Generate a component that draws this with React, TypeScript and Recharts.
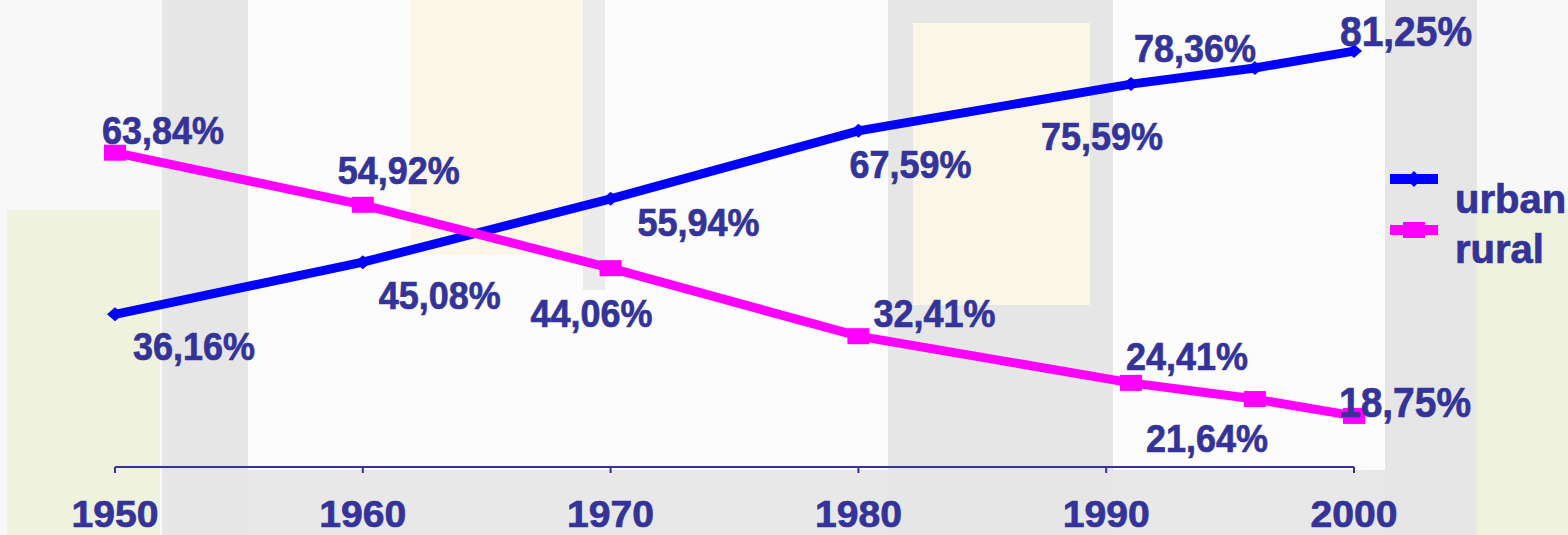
import React from 'react';
import { LineChart, Line, XAxis, YAxis, LabelList } from 'recharts';

const years = [1950, 1960, 1970, 1980, 1991, 1996, 2000];
const urban = [36.16, 45.08, 55.94, 67.59, 75.59, 78.36, 81.25];
const rural = [63.84, 54.92, 44.06, 32.41, 24.41, 21.64, 18.75];
const xTicks = [1950, 1960, 1970, 1980, 1990, 2000];
const seriesNames = ['urban', 'rural'];

// label placement (center offset from the point)
const urbanLabelOffsets = [[79, 32], [77, 33], [88, 23], [52, 33], [-29, 52], [-60, -20], [52, -21]];
const ruralLabelOffsets = [[48, -23], [36, -35], [-19, 45], [76, -23], [56, -27], [-48, 39], [51, -14]];

const data = years.map((year, i) => ({ year, urban: urban[i], rural: rural[i] }));

const TEXT = '#333399';
const FONT = "'Liberation Sans', Arial, sans-serif";

const fmt = (v: number) => v.toFixed(2).replace('.', ',') + '%';

const makeLabel = (offsets: number[][]) => (props: any) => {
  const { x, y, value, index } = props;
  const last = index === years.length - 1;
  const fs = last ? 43 : 39;
  const [dx, dy] = offsets[index];
  return (
    <text
      x={x + dx}
      y={y + dy + fs * 0.36}
      textAnchor="middle"
      fill={TEXT}
      stroke={TEXT}
      strokeWidth={0.7}
      fontFamily={FONT}
      fontWeight="bold"
      fontSize={fs}
      textLength={last ? 132 : 122}
      lengthAdjust="spacingAndGlyphs"
    >
      {fmt(value)}
    </text>
  );
};

const Diamond = (props: any) => {
  const { cx, cy } = props;
  if (cx == null || cy == null) return null;
  return <path d={`M${cx - 8},${cy} L${cx},${cy - 7} L${cx + 8},${cy} L${cx},${cy + 7} Z`} fill="#0000ff" />;
};

const Square = (props: any) => {
  const { cx, cy } = props;
  if (cx == null || cy == null) return null;
  return <rect x={cx - 11} y={cy - 8} width={22} height={16} fill="#ff00ff" />;
};

const YearTick = (props: any) => {
  const { x, y, payload } = props;
  return (
    <text
      x={x}
      y={y + 52}
      textAnchor="middle"
      fill={TEXT}
      stroke={TEXT}
      strokeWidth={0.7}
      fontFamily={FONT}
      fontWeight="bold"
      fontSize={37}
      textLength={87}
      lengthAdjust="spacingAndGlyphs"
    >
      {payload.value}
    </text>
  );
};

const LegendBox = () => (
  <svg width={183} height={120} style={{ position: 'absolute', left: 1385, top: 160 }}>
    <rect x={5} y={14} width={48} height={10} fill="#0000ff" />
    <path d="M29,11 L37,19 L29,27 L21,19 Z" fill="#0000ff" />
    <text x={70} y={53} fill={TEXT} stroke={TEXT} strokeWidth={0.7} fontFamily={FONT} fontWeight="bold" fontSize={40}>{seriesNames[0]}</text>
    <rect x={5} y={65} width={48} height={10} fill="#ff00ff" />
    <rect x={18} y={62} width={22} height={16} fill="#ff00ff" />
    <text x={70} y={103} fill={TEXT} stroke={TEXT} strokeWidth={0.7} fontFamily={FONT} fontWeight="bold" fontSize={40}>{seriesNames[1]}</text>
  </svg>
);

// faded slide backdrop
const backdrop: [number, number, number, number, string][] = [
  [7, 210, 153, 325, '#eff2dd'],
  [162, 0, 86, 535, '#e6e6e6'],
  [248, 0, 640, 470, '#fcfcfc'],
  [248, 470, 640, 65, '#e8e8e8'],
  [410, 0, 173, 255, '#faf7e8'],
  [583, 0, 22, 290, '#ececec'],
  [888, 0, 225, 535, '#e6e6e6'],
  [913, 23, 177, 282, '#faf7e8'],
  [1113, 0, 272, 470, '#fcfcfc'],
  [1113, 470, 272, 65, '#e8e8e8'],
  [1385, 0, 92, 535, '#e6e6e6'],
  [1477, 210, 91, 325, '#eef1dc'],
];

export default function App() {
  return (
    <div style={{ position: 'absolute', left: 0, top: 0, width: 1568, height: 535, background: '#f8f8f8', overflow: 'hidden' }}>
      {backdrop.map(([x, y, w, h, c], i) => (
        <div key={i} style={{ position: 'absolute', left: x, top: y, width: w, height: h, background: c }} />
      ))}
      <div style={{ position: 'absolute', left: 0, top: 0 }}>
        <LineChart width={1568} height={535} data={data} margin={{ top: 0, right: 214, bottom: 0, left: 115 }}>
          <XAxis
            dataKey="year"
            type="number"
            domain={[1950, 2000]}
            ticks={xTicks}
            height={68}
            axisLine={{ stroke: TEXT, strokeWidth: 2 }}
            tickLine={{ stroke: TEXT, strokeWidth: 2 }}
            tickSize={6}
            tick={<YearTick />}
            interval={0}
          />
          <YAxis hide domain={[10, 90]} />
          <Line
            dataKey="urban"
            name={seriesNames[0]}
            stroke="#0000ff"
            strokeWidth={9}
            dot={<Diamond />}
            activeDot={false}
            isAnimationActive={false}
          />
          <Line
            dataKey="rural"
            name={seriesNames[1]}
            stroke="#ff00ff"
            strokeWidth={9}
            dot={<Square />}
            activeDot={false}
            isAnimationActive={false}
          />
          <Line dataKey="urban" stroke="none" dot={false} activeDot={false} isAnimationActive={false}>
            <LabelList dataKey="urban" content={makeLabel(urbanLabelOffsets)} />
          </Line>
          <Line dataKey="rural" stroke="none" dot={false} activeDot={false} isAnimationActive={false}>
            <LabelList dataKey="rural" content={makeLabel(ruralLabelOffsets)} />
          </Line>
        </LineChart>
      </div>
      <LegendBox />
    </div>
  );
}
